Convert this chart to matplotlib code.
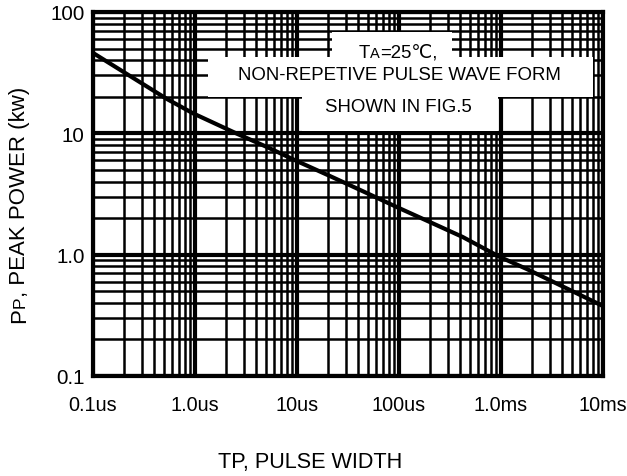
import numpy as np
import matplotlib
matplotlib.use("Agg")
import matplotlib.pyplot as plt
import matplotlib.ticker as mticker
from matplotlib.patches import Rectangle
from matplotlib.transforms import IdentityTransform

plt.rcParams['font.family'] = ['Liberation Sans', 'DejaVu Sans']

# pulse width (s) vs peak power (kW)
pulse_width = [1e-7, 5.3e-7, 9.6e-7, 2.6e-6, 5.1e-6, 1e-5, 2.1e-5, 4.4e-5, 9.5e-5,
               2.0e-4, 4.2e-4, 9.8e-4, 1.8e-3, 1e-2]
peak_power = [46, 19.2, 14.6, 9.9, 7.7, 5.9, 4.45, 3.34, 2.47,
              1.86, 1.40, 0.955, 0.76, 0.377]

x_ticks = [1e-7, 1e-6, 1e-5, 1e-4, 1e-3, 1e-2]
x_labels = ['0.1us', '1.0us', '10us', '100us', '1.0ms', '10ms']
y_ticks = [0.1, 1, 10, 100]
y_labels = ['0.1', '1.0', '10', '100']

W, H = 627, 477
fig = plt.figure(figsize=(W / 100, H / 100), dpi=100)
# axes box in pixels: left 93, right 603, top 13, bottom 377
ax = fig.add_axes([93 / W, 1 - 377 / H, 510 / W, 364 / H])
ax.set_xscale('log')
ax.set_yscale('log')
ax.set_xlim(1e-7, 1e-2)
ax.set_ylim(0.1, 100)

ax.xaxis.set_major_locator(mticker.FixedLocator(x_ticks))
ax.xaxis.set_major_formatter(mticker.FixedFormatter(x_labels))
ax.yaxis.set_major_locator(mticker.FixedLocator(y_ticks))
ax.yaxis.set_major_formatter(mticker.FixedFormatter(y_labels))
ax.xaxis.set_minor_locator(mticker.LogLocator(base=10, subs=range(2, 10), numticks=20))
ax.yaxis.set_minor_locator(mticker.LogLocator(base=10, subs=range(2, 10), numticks=20))
ax.xaxis.set_minor_formatter(mticker.NullFormatter())
ax.yaxis.set_minor_formatter(mticker.NullFormatter())
ax.tick_params(which='both', length=0)
ax.tick_params(axis='x', pad=14, labelsize=14.3)
ax.tick_params(axis='y', pad=6, labelsize=14.8)

ax.grid(which='major', color='black', lw=3)
ax.grid(which='minor', color='black', lw=1.8)
for s in ax.spines.values():
    s.set_linewidth(3)

ax.plot(pulse_width, peak_power, color='black', lw=3, zorder=4,
        solid_joinstyle='round')

# white boxes behind the note (pixel coords -> axes fractions)
def px_box(x0, y0, x1, y1):
    return Rectangle(((x0 - 93) / 510, (377 - y1) / 364), (x1 - x0) / 510, (y1 - y0) / 364,
                     transform=ax.transAxes, facecolor='white', edgecolor='none', zorder=3)

for b in [(332, 33, 452, 60), (208, 58, 593, 98), (302, 98, 498, 132)]:
    ax.add_patch(px_box(*b))


def chain_text(parts, x, y, rotation=0):
    """Place text pieces of different sizes along one baseline, centred on (x, y) in pixels."""
    texts = [fig.text(0, 0, s, fontsize=fs, rotation=rotation, rotation_mode='anchor',
                      ha='left', va='baseline', transform=IdentityTransform(), zorder=6)
             for s, fs in parts]
    r = fig.canvas.get_renderer()
    sizes = []
    for t in texts:
        bb = t.get_window_extent(r)
        sizes.append(bb.height if rotation else bb.width)
    pos = -sum(sizes) / 2
    for t, sz in zip(texts, sizes):
        if rotation:
            t.set_position((x, y + pos))
        else:
            t.set_position((x + pos, y))
        pos += sz


fig.canvas.draw()
chain_text([('T', 13.4), ('A', 10.5), ('=25\u2103,', 13.4)], 398, H - 58)
fig.text(399 / W, 1 - 75 / H, 'NON-REPETIVE PULSE WAVE FORM', fontsize=13.4,
         ha='center', va='center', zorder=6)
fig.text(398 / W, 1 - 107 / H, 'SHOWN IN FIG.5', fontsize=13.4, ha='center', va='center', zorder=6)

chain_text([('P', 16), ('P', 12.5), (', PEAK POWER (kw)', 16)], 25, H - 205, rotation=90)
chain_text([('TP, PULSE WIDTH', 15.6)], 310, H - 468)

fig.savefig('out.png', dpi=100)
